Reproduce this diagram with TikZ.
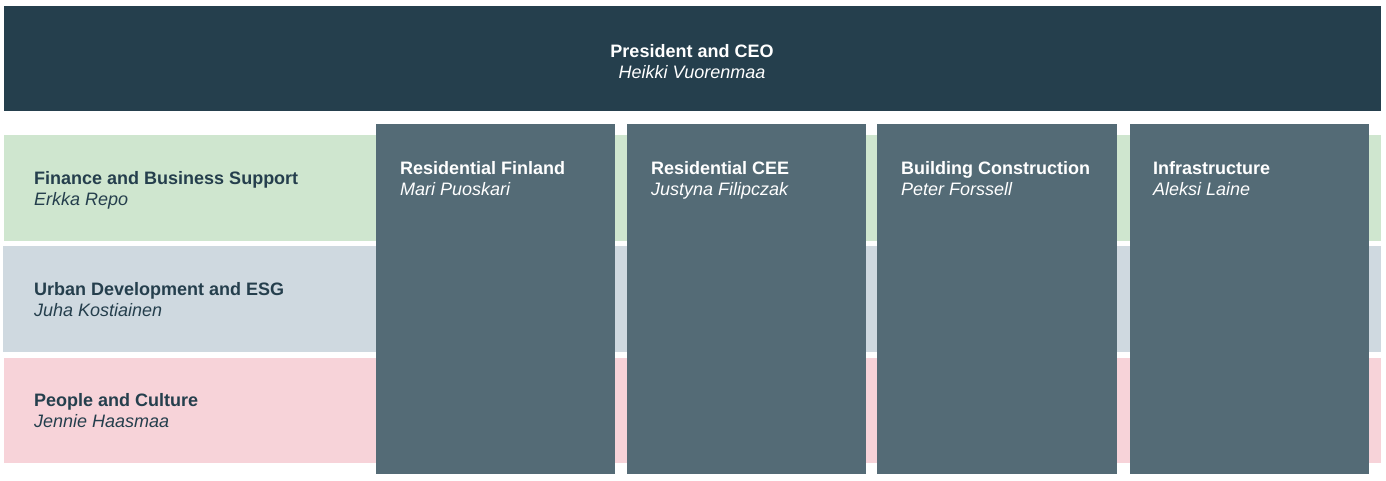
\documentclass[tikz,border=0pt]{standalone}
\usepackage{fontspec}
\setmainfont{Liberation Sans}
\usepackage{xcolor}
\definecolor{topbar}{HTML}{253F4D}
\definecolor{unitcol}{HTML}{546B76}
\definecolor{greenband}{HTML}{CFE6CF}
\definecolor{blueband}{HTML}{CFD9E0}
\definecolor{pinkband}{HTML}{F7D3D9}
\definecolor{darktext}{HTML}{253F4D}

\tikzset{
	head/.style={inner sep=0pt, font=\fontsize{18}{21}\selectfont\bfseries},
	who/.style={inner sep=0pt, font=\fontsize{18}{21}\selectfont\itshape},
}

\begin{document}
\begin{tikzpicture}[x=1pt,y=-1pt]
				\useasboundingbox (0,0) rectangle (1386,480);

				% top bar
				\fill[topbar] (4,6) rectangle (1381,111);
				\draw (692,57) node[head, anchor=base, text=white] (ceo) {President and CEO};
				\draw (692,78) node[who, anchor=base, text=white] (ceoname) {Heikki Vuorenmaa};

				% bands
				\fill[greenband] (4,135) rectangle (1381,241);
				\fill[blueband] (3,246) rectangle (1381,352);
				\fill[pinkband] (4,358) rectangle (1381,463);

				\draw (34,184.5) node[head, anchor=base west, text=darktext] (fin) {Finance and Business Support};
				\draw (34,205.5) node[who, anchor=base west, text=darktext] (finname) {Erkka Repo};

				\draw (34,295.5) node[head, anchor=base west, text=darktext] (urb) {Urban Development and ESG};
				\draw (34,316.5) node[who, anchor=base west, text=darktext] (urbname) {Juha Kostiainen};

				\draw (34,406.5) node[head, anchor=base west, text=darktext] (ppl) {People and Culture};
				\draw (34,427.5) node[who, anchor=base west, text=darktext] (pplname) {Jennie Haasmaa};

				% business units
				\fill[unitcol] (376,124) rectangle (615,474);
				\fill[unitcol] (627,124) rectangle (866,474);
				\fill[unitcol] (877,124) rectangle (1117,474);
				\fill[unitcol] (1130,124) rectangle (1369,474);

				\draw (400,174) node[head, anchor=base west, text=white] (resfi) {Residential Finland};
				\draw (400,195) node[who, anchor=base west, text=white] (resfiname) {Mari Puoskari};

				\draw (651,174) node[head, anchor=base west, text=white] (rescee) {Residential CEE};
				\draw (651,195) node[who, anchor=base west, text=white] (resceename) {Justyna Filipczak};

				\draw (901,174) node[head, anchor=base west, text=white] (build) {Building Construction};
				\draw (901,195) node[who, anchor=base west, text=white] (buildname) {Peter Forssell};

				\draw (1153,174) node[head, anchor=base west, text=white] (infra) {Infrastructure};
				\draw (1153,195) node[who, anchor=base west, text=white] (infraname) {Aleksi Laine};
\end{tikzpicture}
\end{document}
